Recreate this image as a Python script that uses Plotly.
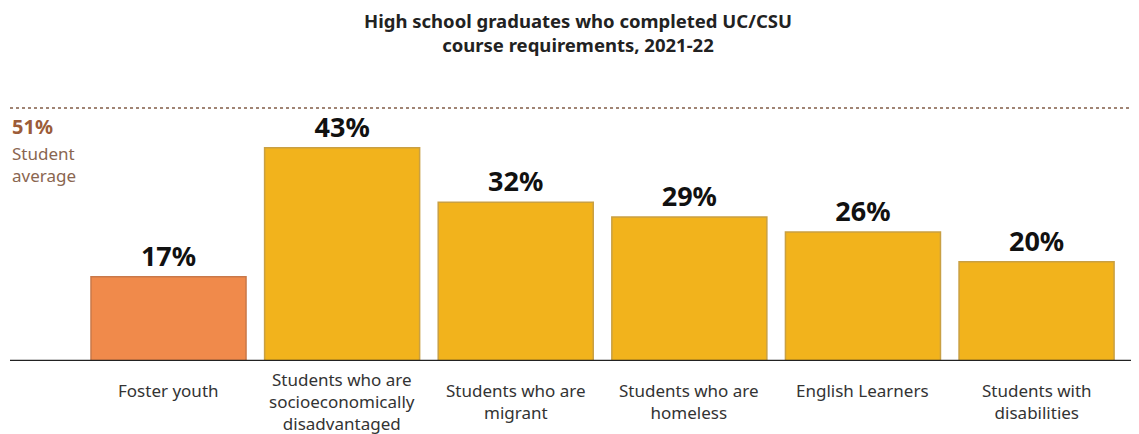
import plotly.graph_objects as go

categories = ["Foster youth",
              "Students who are<br>socioeconomically<br>disadvantaged",
              "Students who are<br>migrant",
              "Students who are<br>homeless",
              "English Learners",
              "Students with<br>disabilities"]
values = [17, 43, 32, 29, 26, 20]
average = 51

colors = ["#f08a4b"] + ["#f2b31c"] * 5
borders = ["#c9784a"] + ["#c9a043"] * 5

fig = go.Figure()
fig.add_trace(go.Bar(
    x=categories, y=values,
    marker=dict(color=colors, line=dict(color=borders, width=1.5)),
    text=[f"<b>{v}%</b>" for v in values],
    textposition="outside",
    textfont=dict(size=27, color="#111111", family="Noto Sans"),
    cliponaxis=False,
))

# student average line
fig.add_shape(type="line", xref="paper", yref="y", x0=0, x1=1, y0=average, y1=average,
              line=dict(color="#a08474", width=2, dash="dot"))
# baseline
fig.add_shape(type="line", xref="paper", yref="y", x0=0, x1=1, y0=0, y1=0,
              line=dict(color="#222222", width=2.5))

fig.add_annotation(xref="paper", yref="y", x=0, y=average, xanchor="left", yanchor="top",
                   yshift=-3, showarrow=False,
                   text="<b>51%</b>", font=dict(size=20, color="#9c5c38", family="Noto Sans"))
fig.add_annotation(xref="paper", yref="y", x=0, y=average, xanchor="left", yanchor="top",
                   yshift=-32, showarrow=False, align="left",
                   text="Student<br>average", font=dict(size=17, color="#8a6650", family="Noto Sans"))

# category labels below the baseline; three-line labels start one line higher
for cat in categories:
    nlines = cat.count("<br>") + 1
    fig.add_annotation(xref="x", yref="y", x=cat, y=0, xanchor="center", yanchor="top",
                       yshift=-16 if nlines < 3 else -5, showarrow=False, align="center",
                       text=cat, font=dict(size=17, color="#333333", family="Noto Sans"))

# title
fig.add_annotation(xref="paper", yref="paper", x=0.503, y=1, xanchor="center", yanchor="top",
                   yshift=94, showarrow=False, align="center",
                   text="<b>High school graduates who completed UC/CSU<br>course requirements, 2021-22</b>",
                   font=dict(size=18.5, color="#222222", family="Noto Sans"))

# page body adds an 8px offset, so the figure is drawn 8px smaller
fig.update_layout(
    width=1131, height=426,
    margin=dict(l=2, r=0, t=92, b=73),
    plot_bgcolor="white", paper_bgcolor="white",
    bargap=0.107,
    showlegend=False,
    font=dict(family="Noto Sans"),
)
fig.update_xaxes(range=[-0.913, 5.59], showgrid=False, showline=False, ticks="",
                 showticklabels=False)
fig.update_yaxes(range=[0, 52.6], visible=False, showgrid=False, zeroline=False)

fig.write_html("out.html")
